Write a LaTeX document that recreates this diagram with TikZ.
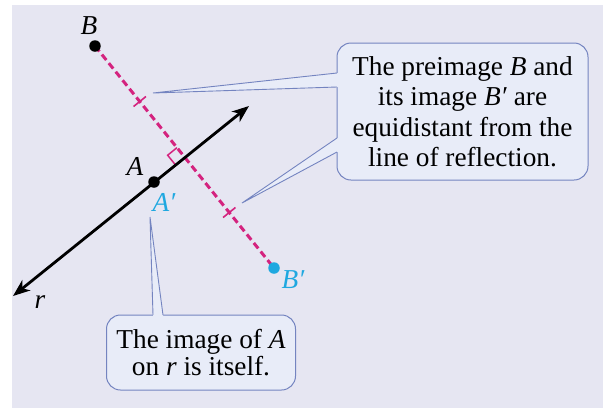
\documentclass[tikz,border=0pt]{standalone}
\usepackage{fontspec}
\setmainfont{Liberation Serif}
\usetikzlibrary{arrows.meta,calc}
\definecolor{bgc}{HTML}{E6E6F2}
\definecolor{boxc}{HTML}{E8ECF8}
\definecolor{edgec}{HTML}{7484C0}
\definecolor{mag}{HTML}{D4237F}
\definecolor{cyn}{HTML}{1FA8E0}
\begin{document}
\begin{tikzpicture}[x=1pt,y=-1pt,
  lbl/.style={font=\fontsize{27.3pt}{30pt}\selectfont\itshape, inner sep=0pt},
  dot/.style={circle,fill=black,inner sep=0pt,minimum size=11.5pt},
  callout/.style={draw=edgec,line width=1pt,fill=boxc,rounded corners=14pt,align=center,inner sep=0pt},
  wedgeline/.style={draw=edgec,line width=0.9pt},
  rline/.style={line width=2.8pt, >={Stealth[length=17pt,width=13pt,inset=5pt]}, <->}
  ]
\useasboundingbox (0,0) rectangle (603,408);
\fill[bgc] (12,5) rectangle (603,408);
% geometry
\coordinate (rS) at (13,296);
\coordinate (rE) at (249,106);
\coordinate (pB) at (95,46);
\coordinate (pBp) at (274,268);
\coordinate (pA) at (154,182);
\coordinate (M) at ($(pB)!0.5!(pBp)$);
\coordinate (T1) at ($(pB)!0.5!(M)$);
\coordinate (T2) at ($(M)!0.5!(pBp)$);
% dashed segment B B'
\draw[mag, line width=3pt, dash pattern=on 7pt off 4pt] (pB) -- (pBp);
\draw[mag, line width=1.6pt] ($(T1)!8pt!90:(pB)$) -- ($(T1)!8pt!-90:(pB)$);
\draw[mag, line width=1.6pt] ($(T2)!8pt!90:(pB)$) -- ($(T2)!8pt!-90:(pB)$);
\coordinate (P1) at ($(M)!12pt!(pB)$);
\coordinate (P2) at ($(M)!12pt!(rS)$);
\draw[mag, line width=1.5pt] (P1) -- ($(P1)+(P2)-(M)$) -- (P2);
% line r
\draw[rline] (rS) -- (rE);
% points
\node[dot] (B) at (pB) {};
\node[dot] (A) at (pA) {};
\node[dot, fill=cyn] (Bp) at (pBp) {};
% labels
\node[lbl] (Bl) at (89,26) {B};
\node[lbl] (Al) at (135,166) {A};
\node[lbl, text=cyn] (Apl) at (164,202) {A′};
\node[lbl, text=cyn] (Bpl) at (293,280) {B′};
\node[lbl] (rl) at (40,302) {r};
% callout 1
\node[callout, minimum width=251pt, minimum height=137pt,
  font=\fontsize{27.3pt}{30.5pt}\selectfont] (c1) at (462.5,111.5)
  {The preimage \textit{B} and\\its image \textit{B′} are\\equidistant from the\\line of reflection.};
\coordinate (t1) at (153,93);
\coordinate (a1) at (337,73);
\coordinate (b1) at (337,87);
\fill[boxc] (t1) -- (a1) -- ($(a1)+(2,0)$) -- ($(b1)+(2,0)$) -- (b1) -- cycle;
\draw[wedgeline] (a1) -- (t1) -- (b1);
\coordinate (t2) at (242,203);
\coordinate (a2) at (337,138);
\coordinate (b2) at (337,152);
\fill[boxc] (t2) -- (a2) -- ($(a2)+(2,0)$) -- ($(b2)+(2,0)$) -- (b2) -- cycle;
\draw[wedgeline] (a2) -- (t2) -- (b2);
% callout 2
\node[callout, minimum width=189pt, minimum height=75pt,
  font=\fontsize{27.3pt}{27pt}\selectfont] (c2) at (201,352.5)
  {The image of \textit{A}\\on \textit{r} is itself.};
\coordinate (t3) at (150,217);
\coordinate (a3) at (153,315);
\coordinate (b3) at (163,315);
\fill[boxc] (t3) -- (a3) -- ($(a3)+(0,2)$) -- ($(b3)+(0,2)$) -- (b3) -- cycle;
\draw[wedgeline] (a3) -- (t3) -- (b3);
\end{tikzpicture}
\end{document}
